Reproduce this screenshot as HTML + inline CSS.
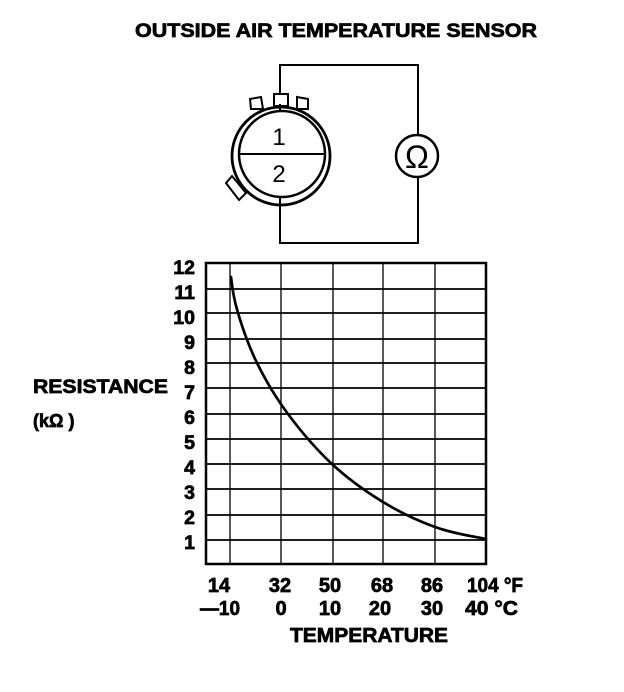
<!DOCTYPE html>
<html>
<head>
<meta charset="utf-8">
<style>
html,body{margin:0;padding:0;background:#fff;}
svg{display:block;}
text{font-family:"Liberation Sans",Arial,sans-serif;fill:#000;}
.b{font-weight:bold;stroke:#000;stroke-width:0.7;}
</style>
</head>
<body>
<svg width="624" height="692" viewBox="0 0 624 692" xmlns="http://www.w3.org/2000/svg">
<rect width="624" height="692" fill="#fff"/>

<!-- Title -->
<text class="b" x="135" y="37" font-size="19.5" textLength="402" lengthAdjust="spacingAndGlyphs">OUTSIDE AIR TEMPERATURE SENSOR</text>

<!-- Circuit wires -->
<g stroke="#000" stroke-width="2" fill="none">
  <polyline points="280,104 280,65 418,65 418,135"/>
  <polyline points="418,177 418,243 280,243 280,203"/>
</g>

<!-- Connector tabs -->
<g stroke="#000" stroke-width="2" fill="#fff">
  <polygon points="250,99 261,97 263,109 251,109"/>
  <rect x="274" y="94" width="14" height="12"/>
  <polygon points="297,97 308,99 308,109 297,109"/>
  <polygon points="226,183 232,176 246,193 239,200"/>
</g>
<!-- Connector rings -->
<circle cx="281" cy="156" r="49" stroke="#000" stroke-width="2.8" fill="#fff"/>
<circle cx="282" cy="154" r="43" stroke="#000" stroke-width="2.5" fill="#fff"/>
<line x1="239" y1="154" x2="325" y2="154" stroke="#000" stroke-width="2"/>
<line x1="280" y1="104" x2="280" y2="112" stroke="#000" stroke-width="2"/>
<line x1="280" y1="197" x2="280" y2="206" stroke="#000" stroke-width="2"/>
<text x="279" y="145" font-size="24" text-anchor="middle">1</text>
<text x="279" y="182" font-size="24" text-anchor="middle">2</text>

<!-- Ohmmeter -->
<circle cx="417" cy="156" r="21" stroke="#000" stroke-width="2.5" fill="#fff"/>
<text x="417" y="168" font-size="32" text-anchor="middle">Ω</text>

<!-- Chart grid -->
<g stroke="#000" stroke-width="1.3">
  <line x1="230" y1="263" x2="230" y2="564"/>
  <line x1="281" y1="263" x2="281" y2="564"/>
  <line x1="333" y1="263" x2="333" y2="564"/>
  <line x1="383" y1="263" x2="383" y2="564"/>
  <line x1="435" y1="263" x2="435" y2="564"/>
</g>
<g stroke="#000" stroke-width="1.7">
  <line x1="206" y1="289" x2="486" y2="289"/>
  <line x1="206" y1="313" x2="486" y2="313"/>
  <line x1="206" y1="339" x2="486" y2="339"/>
  <line x1="206" y1="363" x2="486" y2="363"/>
  <line x1="206" y1="388" x2="486" y2="388"/>
  <line x1="206" y1="414" x2="486" y2="414"/>
  <line x1="206" y1="439" x2="486" y2="439"/>
  <line x1="206" y1="464" x2="486" y2="464"/>
  <line x1="206" y1="489" x2="486" y2="489"/>
  <line x1="206" y1="515" x2="486" y2="515"/>
  <line x1="206" y1="540" x2="486" y2="540"/>
</g>
<rect x="206" y="263" width="280" height="301" fill="none" stroke="#000" stroke-width="2.5"/>

<!-- Curve -->
<path fill="none" stroke="#000" stroke-width="2.7" stroke-linecap="round"
 d="M231,277 C232.5,289 233.7,298.7 238,313 C242.3,327.3 248.7,346.2 257,363 C265.3,379.8 275.5,397.2 288,414 C300.5,430.8 316.2,449.3 332,464 C347.8,478.7 365.8,491.5 383,502 C400.2,512.5 417.8,520.8 435,527 C452.2,533.2 471,536 486,539"/>

<!-- Y labels -->
<g class="b" font-size="19.5" text-anchor="end">
  <text x="195" y="274">12</text>
  <text x="195" y="299">11</text>
  <text x="195" y="324">10</text>
  <text x="195" y="349">9</text>
  <text x="195" y="374">8</text>
  <text x="195" y="399">7</text>
  <text x="195" y="424">6</text>
  <text x="195" y="449">5</text>
  <text x="195" y="474">4</text>
  <text x="195" y="499">3</text>
  <text x="195" y="524">2</text>
  <text x="195" y="549">1</text>
</g>
<text class="b" x="33" y="393" font-size="19.5" textLength="135" lengthAdjust="spacingAndGlyphs">RESISTANCE</text>
<text class="b" x="33" y="427" font-size="18">(kΩ )</text>

<!-- X labels -->
<g class="b" font-size="20" text-anchor="middle">
  <text x="219" y="592">14</text>
  <text x="280" y="592">32</text>
  <text x="330" y="592">50</text>
  <text x="382" y="592">68</text>
  <text x="432" y="592">86</text>
  <text x="281" y="615">0</text>
  <text x="330" y="615">10</text>
  <text x="380" y="615">20</text>
  <text x="432" y="615">30</text>
</g>
<text class="b" x="467" y="592" font-size="20" textLength="56" lengthAdjust="spacingAndGlyphs">104 °F</text>
<text class="b" x="200" y="615" font-size="20" textLength="40" lengthAdjust="spacingAndGlyphs">—10</text>
<text class="b" x="465" y="615" font-size="20" textLength="53" lengthAdjust="spacingAndGlyphs">40 °C</text>
<text class="b" x="290" y="642" font-size="20" textLength="158" lengthAdjust="spacingAndGlyphs">TEMPERATURE</text>
</svg>
</body>
</html>
